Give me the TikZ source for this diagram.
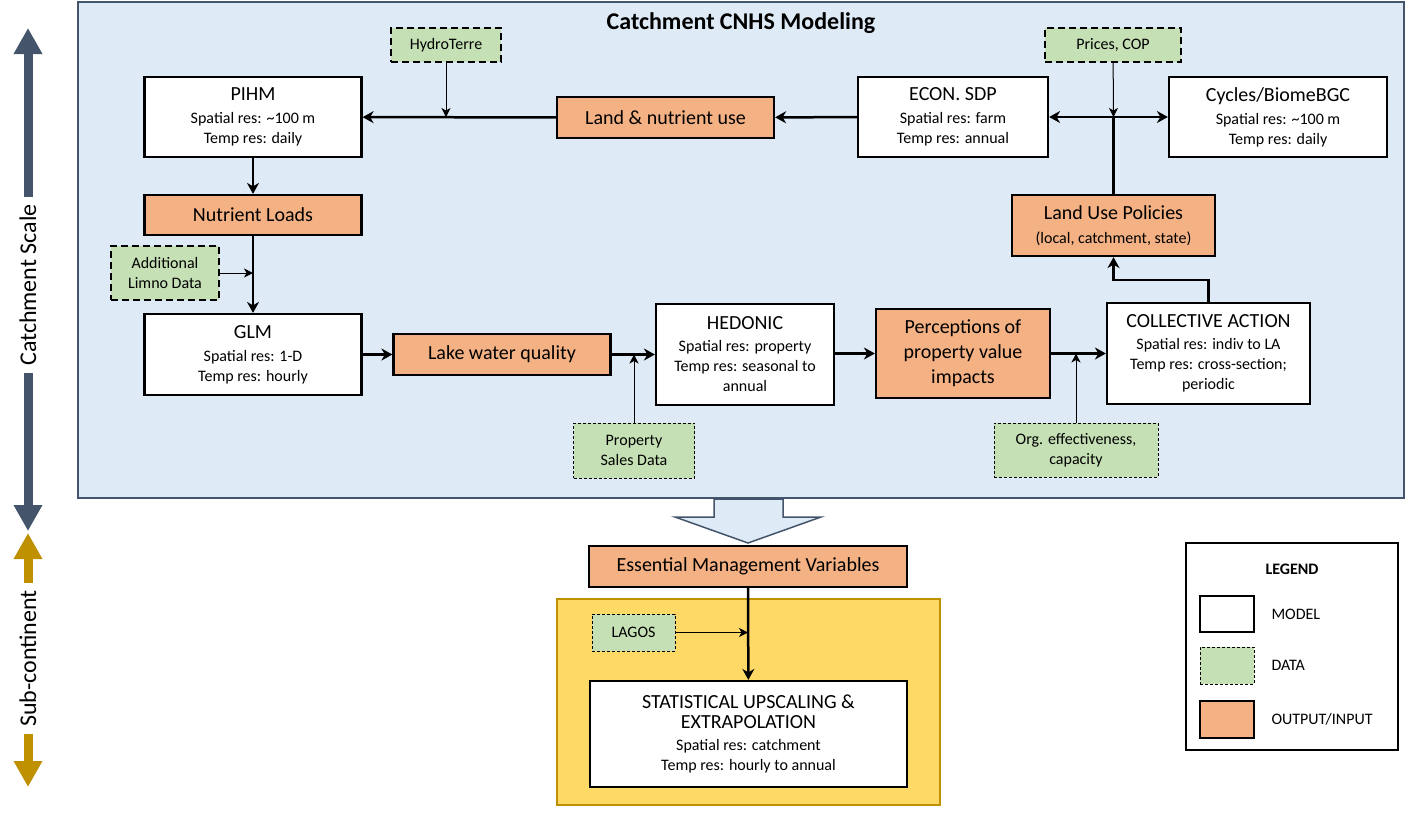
\documentclass[tikz,border=0pt]{standalone}
\usepackage{fontspec}
\setmainfont{Carlito}
\usetikzlibrary{arrows.meta}

\definecolor{panelblue}{HTML}{DEEBF7}
\definecolor{slate}{HTML}{44546A}
\definecolor{outorange}{HTML}{F4B183}
\definecolor{datagreen}{HTML}{C5E0B4}
\definecolor{upyellow}{HTML}{FFD966}
\definecolor{upgold}{HTML}{BF9000}

\begin{document}
\begin{tikzpicture}[x=1pt,y=-1pt]

\tikzstyle{modelbox}=[rectangle,
draw=black,
fill=white,
line width=2.2pt,
inner sep=0pt,
align=center,
font=\fontsize{16}{20}\selectfont
]
\tikzstyle{outbox}=[rectangle,
draw=black,
fill=outorange,
line width=2.2pt,
inner sep=0pt,
align=center,
font=\fontsize{20}{25}\selectfont
]
\tikzstyle{databox}=[rectangle,
draw=black,
fill=datagreen,
line width=2pt,
dash pattern=on 7pt off 4pt,
inner sep=0pt,
align=center,
font=\fontsize{16}{20}\selectfont
]
\tikzstyle{datathin}=[databox, line width=0.8pt, dash pattern=on 3pt off 2pt]
\tikzstyle{myarrow}=[line width=2.5pt, -{Stealth[length=11pt,width=12pt,inset=3.5pt]}]
\tikzstyle{thinarrow}=[line width=1pt, -{Stealth[length=9pt,width=9pt,inset=2.5pt]}]
\tikzstyle{scalebar}=[line width=9pt, {Triangle[length=26pt,width=27pt]}-{Triangle[length=26pt,width=27pt]}]
\tikzstyle{scalelabel}=[rotate=90, fill=white, inner xsep=7pt, inner ysep=2pt, font=\fontsize{24}{24}\selectfont]
\tikzstyle{legtext}=[anchor=west, font=\fontsize{16}{20}\selectfont]

\useasboundingbox (0,0) rectangle (1408,815);

% panels
\draw[fill=panelblue, draw=slate, line width=2.5pt] (78,2) rectangle (1404,498);
\draw[fill=upyellow, draw=upgold, line width=2pt] (557,599) rectangle (940,805);
\draw[draw=black, line width=1.8pt] (1186,543) rectangle (1398,750);
\node[font=\fontsize{24}{24}\selectfont\bfseries] (title) at (741,23) {Catchment CNHS Modeling};

% scale arrows
\coordinate (ct1) at (28,28);
\coordinate (ct2) at (28,531);
\coordinate (cs1) at (28,533);
\coordinate (cs2) at (28,787);
\draw[scalebar, draw=slate] (ct1) -- node[scalelabel, pos=0.511] {Catchment Scale} (ct2);
\draw[scalebar, draw=upgold] (cs1) -- node[scalelabel, pos=0.494] {Sub-continent} (cs2);

\coordinate (phydro) at (446,45);
\coordinate (pprices) at (1113,45);
\coordinate (ppihm) at (253,117);
\coordinate (pland) at (665.5,117.5);
\coordinate (pecon) at (953,117);
\coordinate (pcycles) at (1278,117);
\coordinate (pnl) at (253,215);
\coordinate (plup) at (1113.5,225.5);
\coordinate (plimno) at (165,273);
\coordinate (pglm) at (253,354.5);
\coordinate (plake) at (502,354.5);
\coordinate (phed) at (745,354.5);
\coordinate (pperc) at (963,353.5);
\coordinate (pcoll) at (1208.5,353.5);
\coordinate (pprop) at (634,450.5);
\coordinate (porg) at (1076,450);
\coordinate (pemv) at (748,566.5);
\coordinate (plagos) at (633.5,632.5);
\coordinate (pstat) at (748.5,734);

\node[databox, minimum width=110, minimum height=34] (hydro) at (phydro) {HydroTerre};
\node[databox, minimum width=136, minimum height=34] (prices) at (pprices) {Prices, COP};
\node[modelbox, minimum width=217, minimum height=80] (pihm) at (ppihm) {{\fontsize{20}{24}\selectfont PIHM}\\[3pt]Spatial res: \textasciitilde100 m\\Temp res: daily};
\node[outbox, minimum width=217, minimum height=41] (land) at (pland) {Land \& nutrient use};
\node[modelbox, minimum width=190, minimum height=80] (econ) at (pecon) {{\fontsize{20}{24}\selectfont ECON. SDP}\\[3pt]Spatial res: farm\\Temp res: annual};
\node[modelbox, minimum width=218, minimum height=80] (cycles) at (pcycles) {{\fontsize{20}{24}\selectfont Cycles/BiomeBGC}\\[3pt]Spatial res: \textasciitilde100 m\\Temp res: daily};
\node[outbox, minimum width=217, minimum height=40] (nl) at (pnl) {Nutrient Loads};
\node[outbox, minimum width=203, minimum height=61] (lup) at (plup) {Land Use Policies\\[-1pt]{\fontsize{16}{20}\selectfont (local, catchment, state)}};
\node[databox, minimum width=108, minimum height=54] (limno) at (plimno) {Additional\\Limno Data};
\node[modelbox, minimum width=217, minimum height=81] (glm) at (pglm) {{\fontsize{20}{24}\selectfont GLM}\\[3pt]Spatial res: 1-D\\Temp res: hourly};
\node[outbox, minimum width=217, minimum height=41] (lake) at (plake) {Lake water quality};
\node[modelbox, minimum width=178, minimum height=101] (hed) at (phed) {{\fontsize{20}{24}\selectfont HEDONIC}\\[2pt]Spatial res: property\\Temp res: seasonal to\\annual};
\node[outbox, minimum width=174, minimum height=89] (perc) at (pperc) {Perceptions of\\property value\\impacts};
\node[modelbox, minimum width=203, minimum height=101] (coll) at (pcoll) {{\fontsize{20}{24}\selectfont COLLECTIVE ACTION}\\[2pt]Spatial res: indiv to LA\\Temp res: cross-section;\\periodic};
\node[datathin, minimum width=121, minimum height=55] (prop) at (pprop) {Property\\Sales Data};
\node[datathin, minimum width=164, minimum height=54] (org) at (porg) {Org. effectiveness,\\capacity};
\node[outbox, minimum width=318, minimum height=41] (emv) at (pemv) {Essential Management Variables};
\node[datathin, minimum width=83, minimum height=37] (lagos) at (plagos) {LAGOS};
\node[modelbox, minimum width=317, minimum height=106] (stat) at (pstat) {{\fontsize{20}{25}\selectfont STATISTICAL UPSCALING \&}\\{\fontsize{20}{25}\selectfont EXTRAPOLATION}\\[2pt]Spatial res: catchment\\Temp res: hourly to annual};

% big arrow
\draw[fill=panelblue, draw=slate, line width=1.5pt] (714,499) -- (783,499) -- (783,517) -- (821,517) -- (748,543) -- (675,517) -- (714,517) -- cycle;

\draw[myarrow] (land) -- (pihm);
\draw[thinarrow] (hydro) -- (hydro.south |- pihm.east);
\draw[myarrow] (econ) -- (land);
\draw[line width=2.5pt] (lup.north) -- (lup.north |- econ.east) coordinate (jecon);
\draw[myarrow] (jecon) -- (econ.east);
\draw[myarrow] (jecon) -- (cycles.west);
\draw[thinarrow] (prices) -- (jecon);
\draw[myarrow] (pihm) -- (nl);
\draw[myarrow] (nl) -- (glm);
\draw[thinarrow] (limno.east) -- (limno.east -| nl.south);
\draw[myarrow] (glm.east |- lake.west) -- (lake.west);
\draw[myarrow] (lake) -- (hed.west |- lake.east);
\draw[thinarrow] (prop) -- (prop.north |- lake.east);
\draw[myarrow] (hed.east |- perc.west) -- (perc.west);
\draw[myarrow] (perc) -- (coll);
\draw[thinarrow] (org) -- (org.north |- perc.east);
\draw[myarrow] (coll.north) -- ++(0,-22) -| (lup.south);
\draw[myarrow] (emv) -- (stat);
\draw[thinarrow] (lagos.east) -- (lagos.east -| emv.south);

% legend
\node[font=\fontsize{16}{20}\selectfont\bfseries] (leg) at (1292,569) {LEGEND};
\node[modelbox, minimum width=54, minimum height=36] (lmodel) at (1227,614) {};
\node[datathin, minimum width=54, minimum height=37] (ldata) at (1227,665.5) {};
\node[outbox, minimum width=54, minimum height=37] (lout) at (1227,719.5) {};
\node[legtext] (tmodel) at (1268,614) {MODEL};
\node[legtext] (tdata) at (1268,665.5) {DATA};
\node[legtext] (tout) at (1268,719.5) {OUTPUT/INPUT};

\end{tikzpicture}
\end{document}
